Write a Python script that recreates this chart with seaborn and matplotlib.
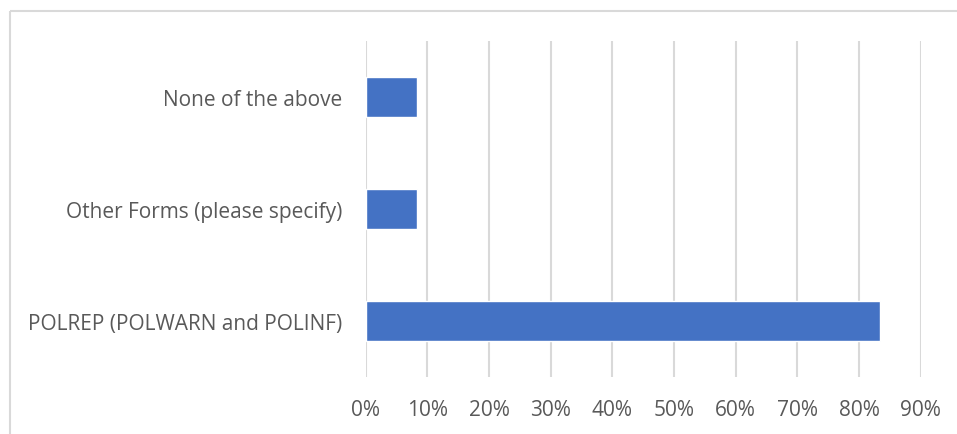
import matplotlib
matplotlib.use("Agg")
import matplotlib.pyplot as plt
from matplotlib.lines import Line2D
from matplotlib.ticker import PercentFormatter, MultipleLocator
import seaborn as sns
import pandas as pd

categories = [
    "None of the above",
    "Other Forms (please specify)",
    "POLREP (POLWARN and POLINF)",
]
shares = [0.0833, 0.0833, 0.8333]

df = pd.DataFrame({"category": categories, "share": shares})

sns.set_theme(style="white")
plt.rcParams["font.family"] = ["Open Sans", "DejaVu Sans"]

W, H, DPI = 957, 435, 100
fig = plt.figure(figsize=(W / DPI, H / DPI), dpi=DPI)
fig.patch.set_facecolor("white")

# chart frame: only the top and left edges fall inside the image
frame_x, frame_y = 9.5 / W, 1 - 12 / H
fig.add_artist(Line2D([frame_x, 1.05], [frame_y, frame_y], transform=fig.transFigure,
                      color="#d9d9d9", linewidth=1.5, solid_capstyle="butt"))
fig.add_artist(Line2D([frame_x, frame_x], [-0.05, frame_y], transform=fig.transFigure,
                      color="#d9d9d9", linewidth=1.5, solid_capstyle="butt"))

left, right, top, bottom = 365.7, 920.7, 42, 378
ax = fig.add_axes([left / W, 1 - bottom / H, (right - left) / W, (bottom - top) / H])

sns.barplot(data=df, x="share", y="category", orient="h", color="#4472C4",
            width=0.355, saturation=1, ax=ax, zorder=3)

ax.set_xlim(0, 0.9)
ax.xaxis.set_major_locator(MultipleLocator(0.1))
ax.xaxis.set_major_formatter(PercentFormatter(1.0, decimals=0))
ax.grid(axis="x", color="#d9d9d9", linewidth=1.5, zorder=0)
ax.set_axisbelow(True)
for s in ax.spines.values():
    s.set_visible(False)
ax.set_xlabel("")
ax.set_ylabel("")
ax.tick_params(axis="both", length=0, labelsize=15, labelcolor="#595959")
ax.tick_params(axis="x", pad=16)
ax.tick_params(axis="y", pad=17)

fig.savefig("out.png", dpi=DPI, facecolor="white")
